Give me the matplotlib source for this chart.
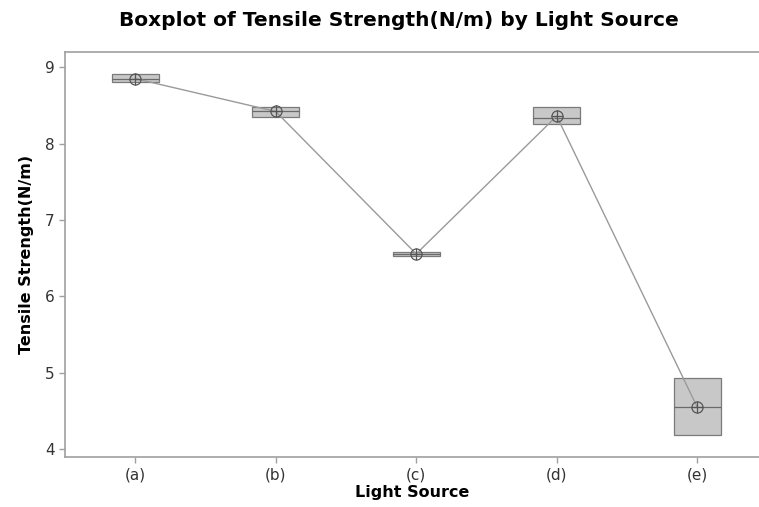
import matplotlib
matplotlib.use("Agg")
import matplotlib.pyplot as plt

sources = ["(a)", "(b)", "(c)", "(d)", "(e)"]
q1 = [8.81, 8.35, 6.525, 8.26, 4.18]
med = [8.85, 8.42, 6.555, 8.34, 4.55]
q3 = [8.905, 8.485, 6.58, 8.48, 4.93]
means = [8.85, 8.42, 6.555, 8.36, 4.55]

pos = list(range(1, len(sources) + 1))

fig = plt.figure(figsize=(7.59, 5.07), dpi=100)
ax = fig.add_axes([0.0856, 0.0986, 0.9144, 0.7984])

stats = []
for i in range(len(sources)):
    stats.append({"q1": q1[i], "med": med[i], "q3": q3[i],
                  "whislo": q1[i], "whishi": q3[i], "fliers": [], "label": sources[i]})

ax.bxp(stats, positions=pos, widths=0.335, patch_artist=True,
       showcaps=False, showfliers=False,
       boxprops=dict(facecolor="#c8c8c8", edgecolor="#7a7a7a", linewidth=0.9),
       medianprops=dict(color="#6a6a6a", linewidth=0.9),
       whiskerprops=dict(color="#7a7a7a", linewidth=0.9))

# mean connect line + circled-cross mean symbol
ax.plot(pos, means, color="#9a9a9a", linewidth=1.0, zorder=3)
ax.plot(pos, means, linestyle="none", marker="o", markersize=8,
        markerfacecolor="none", markeredgecolor="#555555", markeredgewidth=0.9, zorder=4)
ax.plot(pos, means, linestyle="none", marker="+", markersize=8,
        markeredgecolor="#555555", markeredgewidth=0.9, zorder=4)

ax.set_xlim(0.5, 5.44)
ax.set_ylim(3.895, 9.196)
ax.set_xticks(pos)
ax.set_xticklabels(sources)
ax.set_yticks([4, 5, 6, 7, 8, 9])

for s in ax.spines.values():
    s.set_color("#a0a0a0")
    s.set_linewidth(1.2)
ax.spines["right"].set_visible(False)
ax.tick_params(colors="#a0a0a0", labelcolor="#333333", labelsize=11, length=4, width=1)

ax.set_xlabel("Light Source", fontsize=11.5, fontweight="bold", labelpad=2)
ax.set_ylabel("Tensile Strength(N/m)", fontsize=11.5, fontweight="bold", labelpad=8)
fig.suptitle("Boxplot of Tensile Strength(N/m) by Light Source",
             fontsize=14.5, fontweight="bold", x=0.525, y=0.978)

fig.savefig("out.png", dpi=100)
